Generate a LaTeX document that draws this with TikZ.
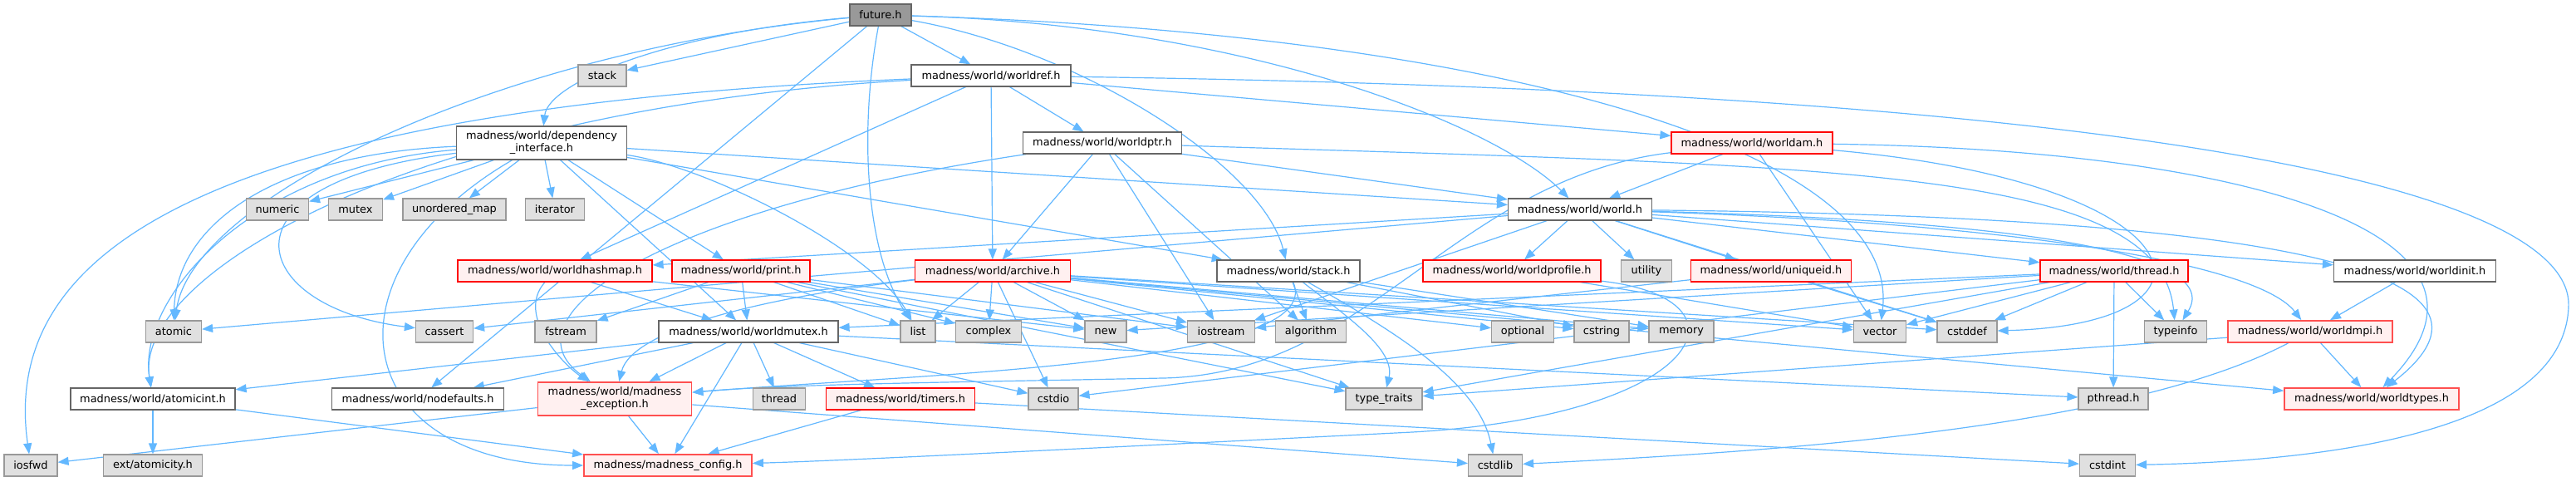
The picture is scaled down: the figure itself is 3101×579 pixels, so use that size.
\documentclass[tikz,border=0pt]{standalone}
\usepackage{fontspec}
\setmainfont{DejaVu Sans}
\usetikzlibrary{arrows.meta,backgrounds}
\definecolor{edgec}{HTML}{63B8FF}
\definecolor{gfill}{HTML}{E0E0E0}
\definecolor{gdraw}{HTML}{999999}
\definecolor{wdraw}{HTML}{666666}
\definecolor{rfill}{HTML}{FFF0F0}
\definecolor{rdraw}{HTML}{FF0000}
\definecolor{rdrawb}{HTML}{FF5050}
\tikzset{
 box/.style={draw, line width=1.2pt, minimum height=26pt, inner xsep=3pt, inner ysep=0pt, font=\fontsize{12.9}{15}\selectfont, text=black, align=center},
 extbox/.style={box, fill=gfill, draw=gdraw},
 locbox/.style={box, fill=white, draw=wdraw},
 trbox/.style={box, fill=rfill, draw=rdraw},
 trboxb/.style={box, fill=rfill, draw=rdrawb, line width=1.8pt},
 mainbox/.style={box, fill=gdraw, draw=wdraw},
 dep/.style={draw=edgec, line width=1.2pt, -{Triangle[length=13pt,width=10pt]}},
}
\begin{document}
\begin{tikzpicture}[x=1pt,y=-1pt]
\useasboundingbox (0,0) rectangle (3101,579);
% row 0
\node[mainbox, minimum width=74pt] (future) at (1060,18) {future.h};
% row 1
\node[extbox, minimum width=58pt] (stackg) at (725,91) {stack};
\node[locbox, minimum width=192pt] (worldref) at (1193,91) {madness/world/worldref.h};
% row 2
\node[locbox, minimum width=205pt, minimum height=40pt] (depint) at (652,172) {madness/world/dependency\\\_interface.h};
\node[locbox, minimum width=191pt] (worldptr) at (1327,172) {madness/world/worldptr.h};
\node[trbox, minimum width=194pt] (worldam) at (2109,172) {madness/world/worldam.h};
% row 3
\node[extbox, minimum width=75pt] (numeric) at (334,252) {numeric};
\node[extbox, minimum width=65pt] (mutex) at (428,252) {mutex};
\node[extbox, minimum width=124pt] (umap) at (547,252) {unordered\_map};
\node[extbox, minimum width=71pt] (iterator) at (668,252) {iterator};
\node[locbox, minimum width=173pt] (worldh) at (1902,252) {madness/world/world.h};
% row 4
\node[trbox, minimum width=234pt] (worldhashmap) at (668,326) {madness/world/worldhashmap.h};
\node[trbox, minimum width=166pt] (printh) at (892,326) {madness/world/print.h};
\node[trbox, minimum width=187pt] (archive) at (1195,326) {madness/world/archive.h};
\node[locbox, minimum width=172pt] (stackh) at (1551,326) {madness/world/stack.h};
\node[trbox, minimum width=214pt] (worldprofile) at (1820,326) {madness/world/worldprofile.h};
\node[extbox, minimum width=61pt] (utility) at (1982,326) {utility};
\node[trbox, minimum width=193pt] (uniqueid) at (2132,326) {madness/world/uniqueid.h};
\node[trbox, minimum width=178pt] (threadh) at (2545,326) {madness/world/thread.h};
\node[locbox, minimum width=195pt] (worldinit) at (2907,326) {madness/world/worldinit.h};
% row 5
\node[extbox, minimum width=67pt] (atomic) at (209,399) {atomic};
\node[extbox, minimum width=69pt] (cassert) at (535,399) {cassert};
\node[extbox, minimum width=74pt] (fstream) at (681,399) {fstream};
\node[locbox, minimum width=216pt] (worldmutex) at (901,399) {madness/world/worldmutex.h};
\node[extbox, minimum width=42pt] (list) at (1105,399) {list};
\node[extbox, minimum width=79pt] (complex) at (1190,399) {complex};
\node[extbox, minimum width=50pt] (new) at (1331,399) {new};
\node[extbox, minimum width=81pt] (iostream) at (1470,399) {iostream};
\node[extbox, minimum width=85pt] (algorithm) at (1578,399) {algorithm};
\node[extbox, minimum width=75pt] (optional) at (1833,399) {optional};
\node[extbox, minimum width=66pt] (cstring) at (1928,399) {cstring};
\node[extbox, minimum width=78pt] (memory) at (2024,399) {memory};
\node[extbox, minimum width=63pt] (vector) at (2263,399) {vector};
\node[extbox, minimum width=72pt] (cstddef) at (2368,399) {cstddef};
\node[extbox, minimum width=75pt] (typeinfo) at (2619,399) {typeinfo};
\node[trboxb, minimum width=198pt] (worldmpi) at (2781,399) {madness/world/worldmpi.h};
% row 6
\node[locbox, minimum width=198pt] (atomicint) at (184,480) {madness/world/atomicint.h};
\node[locbox, minimum width=207pt] (nodefaults) at (503,480) {madness/world/nodefaults.h};
\node[trboxb, minimum width=185pt, minimum height=40pt] (mexc) at (740,480) {madness/world/madness\\\_exception.h};
\node[extbox, minimum width=63pt] (threadg) at (938,480) {thread};
\node[trbox, minimum width=179pt] (timers) at (1084,480) {madness/world/timers.h};
\node[extbox, minimum width=60pt] (cstdio) at (1268,480) {cstdio};
\node[extbox, minimum width=92pt] (typetraits) at (1666,480) {type\_traits};
\node[extbox, minimum width=84pt] (pthread) at (2544,480) {pthread.h};
\node[trboxb, minimum width=210pt] (worldtypes) at (2855,480) {madness/world/worldtypes.h};
% row 7
\node[extbox, minimum width=64pt] (iosfwd) at (37,560) {iosfwd};
\node[extbox, minimum width=119pt] (atomicity) at (184,560) {ext/atomicity.h};
\node[trboxb, minimum width=202pt] (mconfig) at (804,560) {madness/madness\_config.h};
\node[extbox, minimum width=65pt] (cstdlib) at (1800,560) {cstdlib};
\node[extbox, minimum width=67pt] (cstdint) at (2537,560) {cstdint};

\begin{pgfonlayer}{background}
\fill[white] (0,0) rectangle (3101,579);
% future.h
\draw[dep] (future) -- (stackg);
\draw[dep] (future) -- (worldref);
\draw[dep] (future) -- (nodefaults);
\draw[dep] (future) .. controls (800,40) and (660,100) .. (depint);
\draw[dep] (future) .. controls (1500,30) and (1800,150) .. (worldh);
\draw[dep] (future) .. controls (1800,40) and (2290,180) .. (vector);
\draw[dep] (future) .. controls (1035,150) and (1040,300) .. (list);
\draw[dep] (future) .. controls (600,60) and (230,240) .. (atomic);
\draw[dep] (future) .. controls (1300,60) and (1520,200) .. (stackh);
% worldref.h
\draw[dep] (worldref) -- (worldptr);
\draw[dep] (worldref) -- (worldam);
\draw[dep] (worldref) -- (archive);
\draw[dep] (worldref) -- (worldhashmap);
\draw[dep] (worldref) .. controls (250,130) and (0,300) .. (iosfwd);
\draw[dep] (worldref) .. controls (500,130) and (160,330) .. (atomicint);
\draw[dep] (worldref) .. controls (2600,110) and (3100,230) .. (3092,370) .. controls (3085,520) and (2800,555) .. (cstdint);
% dependency_interface.h
\draw[dep] (depint) -- (numeric);
\draw[dep] (depint) -- (mutex);
\draw[dep] (depint) -- (umap);
\draw[dep] (depint) -- (iterator);
\draw[dep] (depint) -- (printh);
\draw[dep] (depint) -- (worldmutex);
\draw[dep] (depint) -- (stackh);
\draw[dep] (depint) -- (worldh);
\draw[dep] (depint) .. controls (850,200) and (1050,300) .. (list);
\draw[dep] (depint) .. controls (330,185) and (212,270) .. (atomic);
\draw[dep] (depint) .. controls (300,200) and (165,360) .. (atomicint);
\draw[dep] (depint) .. controls (250,220) and (300,370) .. (cassert);
\draw[dep] (depint) .. controls (380,330) and (420,560) .. (mconfig);
% worldptr.h
\draw[dep] (worldptr) -- (archive);
\draw[dep] (worldptr) -- (iostream);
\draw[dep] (worldptr) -- (algorithm);
\draw[dep] (worldptr) -- (worldh);
\draw[dep] (worldptr) .. controls (800,250) and (600,380) .. (mexc);
\draw[dep] (worldptr) .. controls (2200,200) and (2600,200) .. (typeinfo);
% worldam.h
\draw[dep] (worldam) -- (worldh);
\draw[dep] (worldam) -- (vector);
\draw[dep] (worldam) .. controls (2700,180) and (3050,280) .. (worldtypes);
\draw[dep] (worldam) .. controls (2650,220) and (2700,390) .. (cstddef);
\draw[dep] (worldam) .. controls (1750,215) and (1650,450) .. (1400,455) .. controls (1150,460) and (950,462) .. (mexc);
% world.h
\draw[dep] (worldh) -- (worldhashmap);
\draw[dep] (worldh) -- (worldprofile);
\draw[dep] (worldh) -- (utility);
\draw[dep] (worldh) -- (uniqueid);
\draw[dep] (worldh) -- (threadh);
\draw[dep] (worldh) -- (worldinit);
\draw[dep] (worldh) -- (cstddef);
\draw[dep] (worldh) -- (iostream);
\draw[dep] (worldh) -- (atomic);
\draw[dep] (worldh) .. controls (2450,270) and (2720,320) .. (worldmpi);
\draw[dep] (worldh) .. controls (2700,260) and (3060,320) .. (worldtypes);
\draw[dep] (worldh) .. controls (2400,265) and (2680,300) .. (typeinfo);
% thread.h
\draw[dep] (threadh) -- (cstddef);
\draw[dep] (threadh) -- (typeinfo);
\draw[dep] (threadh) -- (pthread);
\draw[dep] (threadh) -- (typetraits);
\draw[dep] (threadh) -- (new);
\draw[dep] (threadh) -- (cstdio);
\draw[dep] (threadh) -- (vector);
\draw[dep] (threadh) -- (worldmutex);
% worldmpi.h, worldinit.h
\draw[dep] (worldmpi) -- (worldtypes);
\draw[dep] (worldmpi) -- (typetraits);
\draw[dep] (worldmpi) .. controls (2550,520) and (2100,545) .. (cstdlib);
\draw[dep] (worldinit) -- (worldmpi);
% uniqueid.h, worldprofile.h
\draw[dep] (uniqueid) -- (cstddef);
\draw[dep] (uniqueid) -- (iostream);
\draw[dep] (worldprofile) -- (vector);
\draw[dep] (worldprofile) .. controls (2120,360) and (2050,500) .. (1700,520) .. controls (1300,540) and (1000,555) .. (mconfig);
% stack.h
\draw[dep] (stackh) -- (algorithm);
\draw[dep] (stackh) -- (cstring);
\draw[dep] (stackh) -- (memory);
\draw[dep] (stackh) .. controls (1620,380) and (1680,420) .. (typetraits);
\draw[dep] (stackh) .. controls (1680,400) and (1780,460) .. (cstdlib);
\draw[dep] (stackh) .. controls (1600,440) and (1100,450) .. (mexc);
% archive.h
\draw[dep] (archive) -- (list);
\draw[dep] (archive) -- (complex);
\draw[dep] (archive) -- (cstdio);
\draw[dep] (archive) -- (cassert);
\draw[dep] (archive) -- (iostream);
\draw[dep] (archive) -- (new);
\draw[dep] (archive) -- (optional);
\draw[dep] (archive) -- (cstring);
\draw[dep] (archive) -- (memory);
\draw[dep] (archive) -- (vector);
\draw[dep] (archive) -- (cstddef);
\draw[dep] (archive) -- (worldtypes);
\draw[dep] (archive) -- (typetraits);
\draw[dep] (archive) .. controls (900,360) and (760,400) .. (mexc);
% print.h
\draw[dep] (printh) -- (worldmutex);
\draw[dep] (printh) -- (list);
\draw[dep] (printh) -- (complex);
\draw[dep] (printh) -- (fstream);
\draw[dep] (printh) -- (new);
\draw[dep] (printh) -- (iostream);
\draw[dep] (printh) -- (typetraits);
% worldhashmap.h
\draw[dep] (worldhashmap) -- (worldmutex);
\draw[dep] (worldhashmap) -- (new);
\draw[dep] (worldhashmap) .. controls (620,380) and (680,440) .. (mexc);
% worldmutex.h
\draw[dep] (worldmutex) -- (atomicint);
\draw[dep] (worldmutex) -- (nodefaults);
\draw[dep] (worldmutex) -- (mexc);
\draw[dep] (worldmutex) -- (threadg);
\draw[dep] (worldmutex) -- (timers);
\draw[dep] (worldmutex) -- (cstdio);
\draw[dep] (worldmutex) -- (mconfig);
\draw[dep] (worldmutex) -- (pthread);
% madness_exception.h, atomicint.h, timers.h
\draw[dep] (mexc) -- (iosfwd);
\draw[dep] (mexc) -- (mconfig);
\draw[dep] (mexc) -- (cstdlib);
\draw[dep] (atomicint) -- (atomicity);
\draw[dep] (atomicint) -- (mconfig);
\draw[dep] (timers) -- (mconfig);
\draw[dep] (timers) -- (cstdint);
\end{pgfonlayer}
\end{tikzpicture}
\end{document}
